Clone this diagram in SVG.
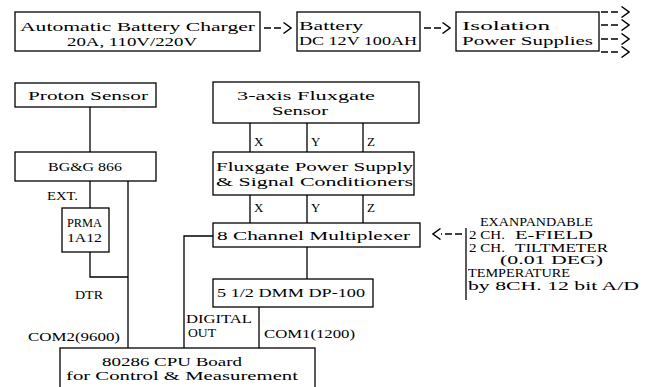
<svg xmlns="http://www.w3.org/2000/svg" width="653" height="387" viewBox="0 0 653 387">
<style>
  .box{fill:#fff;stroke:#000;stroke-width:1.3}
  .t{font-family:"Liberation Serif","DejaVu Serif",serif;font-size:13px;fill:#000}
  .s{font-size:12.5px}
  .x{font-size:11.5px}
  .c{fill:none;stroke:#000;stroke-width:1.3}
  .d{fill:none;stroke:#000;stroke-width:1.5;stroke-dasharray:7 3}
</style>
<defs>
  <marker id="chev" viewBox="0 0 9 12" refX="0" refY="6" markerWidth="9" markerHeight="12" markerUnits="userSpaceOnUse" orient="auto">
    <path d="M0.5,0.5 L8,6 L0.5,11.5" fill="none" stroke="#000" stroke-width="1.4"/>
  </marker>
</defs>
<rect width="653" height="387" fill="#fff"/>

<g id="connectors">
  <path class="d" d="M264 28 H283" marker-end="url(#chev)"/>
  <path class="d" d="M424 28 H442" marker-end="url(#chev)"/>
  <path class="d" d="M601 12 H621" marker-end="url(#chev)"/>
  <path class="d" d="M601 25 H621" marker-end="url(#chev)"/>
  <path class="d" d="M601 39 H621" marker-end="url(#chev)"/>
  <path class="d" d="M601 52 H621" marker-end="url(#chev)"/>
  <path class="d" d="M462 234 H441" marker-end="url(#chev)"/>
  <path class="c" d="M90 107 V152"/>
  <path class="c" d="M90 181 V208"/>
  <path class="c" d="M90 252 V277 H128"/>
  <path class="c" d="M128 181 V348"/>
  <path class="c" d="M250 123 V152 M307 123 V152 M363 123 V152"/>
  <path class="c" d="M250 195 V223 M307 195 V223 M363 195 V223"/>
  <path class="c" d="M307 247 V279"/>
  <path class="c" d="M213 236 H184 V348"/>
  <path class="c" d="M259 307 V348"/>
</g>

<g id="charger">
  <rect class="box" x="15" y="12" width="245" height="39"/>
  <text class="t" x="20" y="31" textLength="235" lengthAdjust="spacingAndGlyphs">Automatic Battery Charger</text>
  <text class="t" x="67" y="46" textLength="130" lengthAdjust="spacingAndGlyphs">20A, 110V/220V</text>
</g>
<g id="battery">
  <rect class="box" x="297" y="12" width="123" height="39"/>
  <text class="t" x="299" y="30" textLength="64" lengthAdjust="spacingAndGlyphs">Battery</text>
  <text class="t" x="299" y="45" textLength="118" lengthAdjust="spacingAndGlyphs">DC 12V 100AH</text>
</g>
<g id="isolation">
  <rect class="box" x="456" y="12" width="143" height="39"/>
  <text class="t" x="462" y="30" textLength="88" lengthAdjust="spacingAndGlyphs">Isolation</text>
  <text class="t" x="462" y="45" textLength="131" lengthAdjust="spacingAndGlyphs">Power Supplies</text>
</g>

<g id="proton">
  <rect class="box" x="15" y="83" width="141" height="24"/>
  <text class="t" x="28" y="100" textLength="120" lengthAdjust="spacingAndGlyphs">Proton Sensor</text>
</g>
<g id="egg">
  <rect class="box" x="15" y="152" width="141" height="29"/>
  <text class="t" x="48" y="171" textLength="74" lengthAdjust="spacingAndGlyphs">BG&amp;G 866</text>
</g>
<g id="labels-left">
  <text class="t" x="47" y="200" textLength="31" lengthAdjust="spacingAndGlyphs">EXT.</text>
  <text class="t" x="75" y="299" textLength="28" lengthAdjust="spacingAndGlyphs">DTR</text>
  <text class="t" x="28" y="341" textLength="92" lengthAdjust="spacingAndGlyphs">COM2(9600)</text>
  <text class="t s" x="186" y="323" textLength="66" lengthAdjust="spacingAndGlyphs">DIGITAL</text>
  <text class="t s" x="188" y="337" textLength="28" lengthAdjust="spacingAndGlyphs">OUT</text>
  <text class="t" x="264" y="338" textLength="91" lengthAdjust="spacingAndGlyphs">COM1(1200)</text>
</g>
<g id="prma">
  <rect class="box" x="62" y="208" width="47" height="44"/>
  <text class="t" x="67" y="227" textLength="35" lengthAdjust="spacingAndGlyphs">PRMA</text>
  <text class="t" x="67" y="242" textLength="35" lengthAdjust="spacingAndGlyphs">1A12</text>
</g>

<g id="fluxsensor">
  <rect class="box" x="213" y="82" width="206" height="41"/>
  <text class="t" x="237" y="100" textLength="138" lengthAdjust="spacingAndGlyphs">3-axis Fluxgate</text>
  <text class="t" x="272" y="115" textLength="56" lengthAdjust="spacingAndGlyphs">Sensor</text>
</g>
<g id="xyz1">
  <text class="t" x="254" y="146">X</text>
  <text class="t" x="311" y="146">Y</text>
  <text class="t" x="367" y="146">Z</text>
</g>
<g id="fluxpower">
  <rect class="box" x="213" y="152" width="201" height="43"/>
  <text class="t" x="216" y="171" textLength="197" lengthAdjust="spacingAndGlyphs">Fluxgate Power Supply</text>
  <text class="t" x="216" y="186" textLength="197" lengthAdjust="spacingAndGlyphs">&amp; Signal Conditioners</text>
</g>
<g id="xyz2">
  <text class="t" x="254" y="212">X</text>
  <text class="t" x="311" y="212">Y</text>
  <text class="t" x="367" y="212">Z</text>
</g>
<g id="mux">
  <rect class="box" x="213" y="223" width="207" height="24"/>
  <text class="t" x="217" y="240" textLength="193" lengthAdjust="spacingAndGlyphs">8 Channel Multiplexer</text>
</g>
<g id="dmm">
  <rect class="box" x="213" y="279" width="160" height="28"/>
  <text class="t" x="217" y="297" textLength="148" lengthAdjust="spacingAndGlyphs">5 1/2 DMM DP-100</text>
</g>
<g id="cpu">
  <rect class="box" x="60" y="348" width="255" height="50"/>
  <text class="t s" x="102" y="366" textLength="140" lengthAdjust="spacingAndGlyphs">80286 CPU Board</text>
  <text class="t s" x="66" y="380" textLength="232" lengthAdjust="spacingAndGlyphs">for Control &amp; Measurement</text>
</g>

<g id="expandable">
  <path class="c" d="M466 228 V300"/>
  <text class="t x" x="480" y="226" textLength="113" lengthAdjust="spacingAndGlyphs">EXANPANDABLE</text>
  <text class="t x" x="469" y="238.8" textLength="36" lengthAdjust="spacingAndGlyphs">2 CH.</text>
  <text class="t x" x="515" y="238.8" textLength="78" lengthAdjust="spacingAndGlyphs">E-FIELD</text>
  <text class="t x" x="469" y="251.6" textLength="36" lengthAdjust="spacingAndGlyphs">2 CH.</text>
  <text class="t x" x="515" y="251.6" textLength="93" lengthAdjust="spacingAndGlyphs">TILTMETER</text>
  <text class="t x" x="500" y="264.4" textLength="103" lengthAdjust="spacingAndGlyphs">(0.01 DEG)</text>
  <text class="t x" x="468" y="277.2" textLength="102" lengthAdjust="spacingAndGlyphs">TEMPERATURE</text>
  <text class="t x" x="468" y="290" textLength="171" lengthAdjust="spacingAndGlyphs">by 8CH.  12 bit A/D</text>
</g>
</svg>
